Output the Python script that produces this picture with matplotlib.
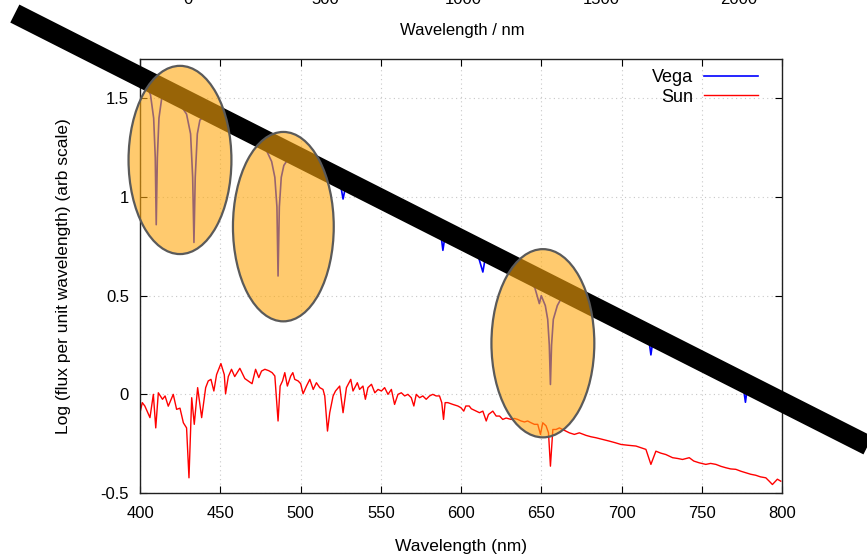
import matplotlib
matplotlib.use("Agg")
import matplotlib.pyplot as plt
from matplotlib.patches import Ellipse

plt.rcParams['font.family'] = ['Liberation Sans', 'DejaVu Sans']

# Vega spectrum (wavelength nm, log flux)
vega_wl = [400, 403, 406.5, 408.5, 409.5, 410.1, 410.8, 411.8, 413.5, 416, 420, 425, 429,
           431.5, 432.8, 433.6, 434.4, 435.7, 437.3, 440, 450, 460, 470, 478, 482, 484,
           485.3, 486.0, 486.8, 488, 489.6, 492, 500, 510, 520, 525, 526.5, 528, 540, 560,
           580, 587.5, 588.7, 590, 600, 610, 613.6, 615.5, 625, 635, 642, 646, 648.8, 650,
           652.5, 654, 655, 655.7, 656.4, 657.5, 660, 662, 670, 680, 690, 700, 710, 717,
           718.3, 719.5, 730, 745, 760, 770, 775.5, 777.2, 778.5, 786, 795, 800]
vega_flux = [1.61, 1.58, 1.52, 1.40, 1.20, 0.86, 1.20, 1.40, 1.50, 1.51, 1.49, 1.47, 1.42,
             1.32, 1.10, 0.77, 1.10, 1.32, 1.39, 1.41, 1.37, 1.33, 1.29, 1.25, 1.18, 1.10,
             0.95, 0.60, 0.95, 1.10, 1.16, 1.19, 1.165, 1.12, 1.08, 1.06, 0.99, 1.05, 1.00, 0.92,
             0.84, 0.81, 0.73, 0.80, 0.76, 0.72, 0.62, 0.71, 0.68, 0.62, 0.58, 0.54, 0.46, 0.50,
             0.45, 0.38, 0.25, 0.05, 0.25, 0.38, 0.45, 0.48, 0.47, 0.43, 0.39, 0.35, 0.31, 0.28,
             0.20, 0.27, 0.23, 0.17, 0.11, 0.07, 0.06, -0.04, 0.04, 0.02, -0.03, -0.05]

# Sun spectrum
sun_wl = [400.0, 401.4, 403.0, 406.2, 408.3, 409.8, 411.4, 414.0, 415.6, 417.6, 420.7, 422.8,
          424.9, 427.0, 429.0, 430.5, 432.2, 433.8, 435.9, 438.4, 440.9, 442.5, 444.2, 446.0,
          447.7, 450.4, 452.5, 453.3, 455.0, 457.0, 459.0, 462.2, 465.3, 467.4, 469.8, 472.0,
          474.0, 475.7, 477.8, 480.2, 482.3, 484.0, 486.0, 487.3, 488.8, 490.2, 491.8, 493.9,
          495.2, 496.4, 498.5, 500.1, 501.6, 503.7, 505.8, 507.9, 509.9, 512.0, 514.0, 515.1,
          516.8, 518.2, 520.3, 521.8, 524.4, 526.5, 528.6, 531.3, 532.7, 535.4, 536.8, 538.9,
          540.4, 542.0, 544.2, 546.3, 548.3, 550.4, 552.4, 554.5, 556.6, 558.6, 560.7, 562.8,
          564.9, 566.9, 569.0, 570.6, 572.1, 574.2, 576.2, 578.3, 580.4, 582.4, 584.5, 586.6,
          588.0, 589.1, 590.1, 591.8, 594.9, 598.0, 600.0, 601.7, 603.0, 605.1, 606.4, 609.4,
          611.5, 613.6, 615.7, 617.1, 619.8, 621.9, 624.0, 626.0, 628.1, 631.2, 633.2, 635.3,
          637.4, 639.5, 641.5, 643.6, 645.7, 647.8, 649.5, 650.9, 653.0, 654.5, 655.7, 657.2,
          659.2, 661.3, 663.3, 665.4, 667.5, 670.6, 673.7, 677.9, 681.0, 684.1, 688.0, 692.4,
          696.0, 699.7, 704.0, 709.0, 712.0, 715.2, 718.3, 721.4, 724.5, 727.6, 731.8, 735.0,
          738.0, 742.2, 745.0, 748.4, 752.5, 755.5, 758.8, 762.0, 765.0, 768.0, 771.2, 774.5,
          777.4, 780.5, 783.6, 786.5, 789.9, 792.0, 794.0, 797.1, 799.2]
sun_flux = [-0.093, -0.042, -0.059, -0.118, 0.0, -0.170, 0.008, -0.025, -0.008, -0.060, 0.0, -0.076,
            -0.070, -0.144, -0.170, -0.423, -0.017, -0.152, 0.034, -0.118, 0.034, 0.068, 0.076, 0.017,
            0.100, 0.156, 0.100, 0.003, 0.090, 0.127, 0.090, 0.132, 0.080, 0.068, 0.054, 0.127,
            0.085, 0.118, 0.127, 0.120, 0.110, 0.093, -0.135, 0.042, 0.068, 0.110, 0.042, 0.093,
            0.110, 0.076, 0.068, 0.054, 0.003, 0.042, 0.076, 0.025, 0.059, 0.034, 0.025, -0.008,
            -0.186, -0.093, -0.008, 0.017, 0.042, -0.093, 0.034, 0.076, 0.017, 0.059, 0.025, 0.042,
            -0.025, 0.034, 0.051, 0.008, 0.025, 0.017, 0.034, 0.0, 0.025, -0.051, 0.0, 0.008,
            -0.008, 0.0, -0.017, -0.059, 0.0, -0.017, -0.008, -0.025, -0.008, 0.0, -0.008, -0.008,
            -0.042, -0.127, -0.042, -0.042, -0.051, -0.059, -0.068, -0.085, -0.059, -0.059, -0.073, -0.085,
            -0.093, -0.085, -0.135, -0.102, -0.085, -0.110, -0.110, -0.127, -0.120, -0.127, -0.122, -0.127,
            -0.135, -0.140, -0.135, -0.144, -0.152, -0.152, -0.203, -0.144, -0.160, -0.195, -0.364, -0.178,
            -0.178, -0.170, -0.178, -0.186, -0.195, -0.203, -0.195, -0.208, -0.215, -0.220, -0.228, -0.237,
            -0.245, -0.254, -0.258, -0.262, -0.270, -0.279, -0.355, -0.288, -0.298, -0.305, -0.321, -0.325,
            -0.330, -0.321, -0.338, -0.347, -0.355, -0.350, -0.355, -0.365, -0.372, -0.378, -0.380, -0.390,
            -0.397, -0.405, -0.410, -0.418, -0.423, -0.440, -0.457, -0.430, -0.440]

# overlay annotations (data coords)
bar_x = [322.0, 872.8]
bar_y = [1.93, -0.338]
ell_x = [424.9, 489.3, 651.0]
ell_y = [1.188, 0.850, 0.259]
ell_w = [64.1, 62.8, 64.1]
ell_h = [0.954, 0.96, 0.954]

top_ticks = [0, 500, 1000, 1500, 2000]

fig = plt.figure(figsize=(8.67, 5.56), dpi=100)
ax = fig.add_axes([0.1615, 0.1133, 0.7405, 0.7807])

ax.plot(vega_wl, vega_flux, color='blue', lw=1.2, label='Vega', zorder=2)
ax.plot(sun_wl, sun_flux, color='red', lw=1.0, label='Sun', zorder=2)

ax.plot(bar_x, bar_y, color='black', lw=14.5, solid_capstyle='butt', zorder=3, clip_on=False)
for cx, cy, w, h in zip(ell_x, ell_y, ell_w, ell_h):
    e = Ellipse((cx, cy), w, h, facecolor=(1.0, 0.66, 0.05, 0.6), edgecolor='#5a5a5a',
                lw=1.6, zorder=4, clip_on=False)
    ax.add_patch(e)

ax.set_xlim(400, 800)
ax.set_ylim(-0.5, 1.7)
ax.set_xticks([400, 450, 500, 550, 600, 650, 700, 750, 800])
ax.set_yticks([-0.5, 0, 0.5, 1, 1.5])
ax.set_yticklabels(['-0.5', '0', '0.5', '1', '1.5'])
ax.tick_params(direction='in', top=True, right=True, length=5, labelsize=12)
ax.tick_params(axis='x', pad=9)
ax.tick_params(axis='y', pad=8)
ax.grid(True, color='#c8c8c8', linestyle=(0, (1, 3)), lw=0.8)
for s in ax.spines.values():
    s.set_color('#202020')
    s.set_linewidth(1.0)
ax.set_xlabel('Wavelength (nm)', fontsize=12.5, labelpad=13)
ax.set_ylabel('Log (flux per unit wavelength) (arb scale)', fontsize=12.5, labelpad=21)

ax.legend(loc='upper right', bbox_to_anchor=(0.985, 1.01), markerfirst=False, frameon=False,
          fontsize=13, handlelength=3.0, handletextpad=0.6, labelspacing=0.15, borderaxespad=0.4)

# remnant of the panel above
ax_top = fig.add_axes([0.1615, 1.025, 0.7405, 0.3])
ax_top.set_xlim(-174, 2156)
ax_top.set_xticks(top_ticks)
ax_top.set_yticks([])
ax_top.tick_params(length=0, labelsize=12, pad=4)
for s in ax_top.spines.values():
    s.set_visible(False)
ax_top.patch.set_visible(False)
fig.text(462 / 867, 1 - 30 / 556, 'Wavelength / nm', ha='center', va='center', fontsize=12)

fig.savefig('out.png', dpi=100)
